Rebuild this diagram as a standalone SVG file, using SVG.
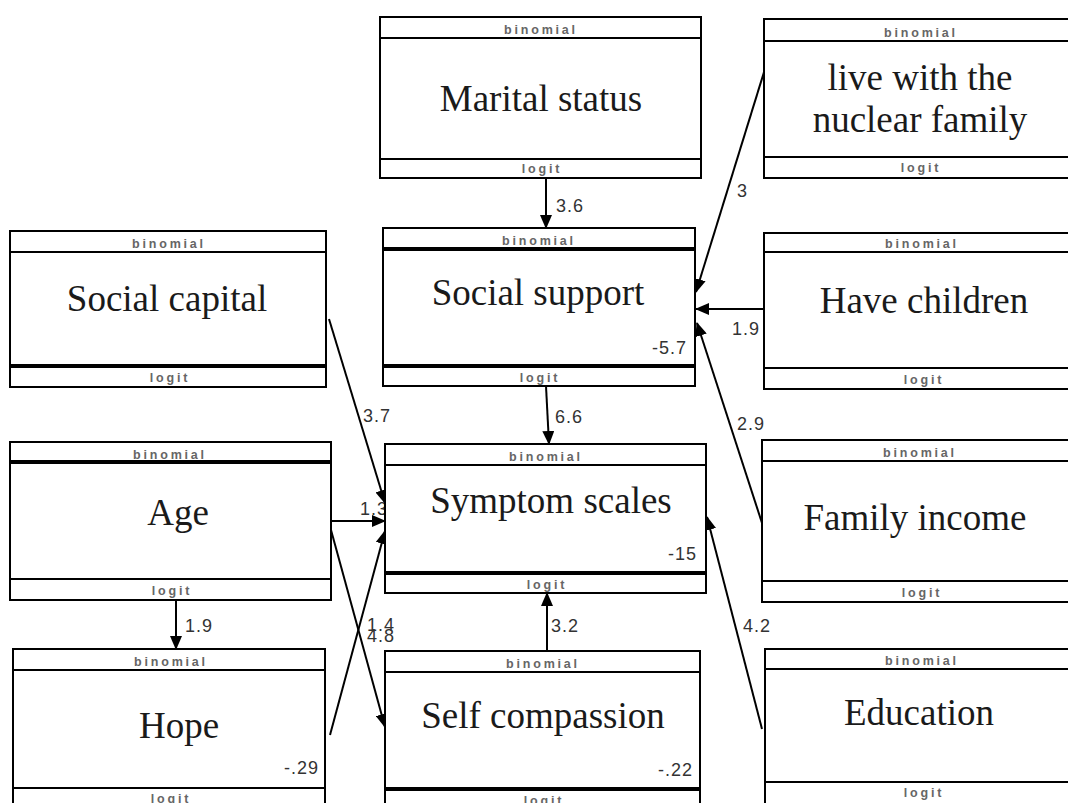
<svg xmlns="http://www.w3.org/2000/svg" width="1068" height="803" viewBox="0 0 1068 803">
<style>
.box{fill:#fff;stroke:#000;stroke-width:2}
.sep{stroke:#000;stroke-width:2}
.thk{stroke:#000;stroke-width:4}
.hd{font-family:"Liberation Sans",Arial,sans-serif;font-size:12.5px;font-weight:bold;letter-spacing:2.8px;fill:#666;text-anchor:middle}
.nm{font-family:"Liberation Serif","Times New Roman",serif;font-size:37px;fill:#1a1a1a;text-anchor:middle}
.cf{font-family:"Liberation Sans",Arial,sans-serif;font-size:18px;letter-spacing:1px;fill:#333}
.cr{font-family:"Liberation Sans",Arial,sans-serif;font-size:18px;letter-spacing:1px;fill:#333;text-anchor:end}
.edge{stroke:#000;stroke-width:2;fill:none;marker-end:url(#ah)}
</style>
<defs>
<marker id="ah" markerUnits="userSpaceOnUse" markerWidth="14" markerHeight="12" refX="13" refY="6" orient="auto">
<path d="M0,0 L14,6 L0,12 z" fill="#000"/>
</marker>
</defs>
<rect width="1068" height="803" fill="#fff"/>

<g id="connectors">
<line class="edge" x1="546" y1="178" x2="546" y2="228"/>
<line class="edge" x1="764" y1="72" x2="696" y2="292"/>
<line class="edge" x1="764" y1="309" x2="696" y2="309"/>
<line class="edge" x1="762" y1="523" x2="697" y2="323"/>
<line class="edge" x1="546" y1="386" x2="549" y2="444"/>
<line class="edge" x1="329" y1="319" x2="385" y2="503"/>
<line class="edge" x1="331" y1="521" x2="385" y2="521"/>
<line class="edge" x1="331" y1="530" x2="385" y2="727"/>
<line class="edge" x1="330" y1="735" x2="385" y2="531"/>
<line class="edge" x1="547" y1="651" x2="547" y2="593"/>
<line class="edge" x1="762" y1="729" x2="707" y2="517"/>
<line class="edge" x1="176" y1="600" x2="176" y2="649"/>
<text class="cf" x="556" y="212">3.6</text>
<text class="cf" x="737" y="197">3</text>
<text class="cf" x="732" y="335">1.9</text>
<text class="cf" x="737" y="430">2.9</text>
<text class="cf" x="555" y="423">6.6</text>
<text class="cf" x="363" y="422">3.7</text>
<text class="cf" x="360" y="515">1.3</text>
<text class="cf" x="367" y="631">1.4</text>
<text class="cf" x="367" y="642">4.8</text>
<text class="cf" x="551" y="632">3.2</text>
<text class="cf" x="743" y="632">4.2</text>
<text class="cf" x="185" y="632">1.9</text>
</g>

<g id="marital">
<rect class="box" x="380" y="17" width="321" height="161"/>
<line class="sep" x1="380" y1="38" x2="701" y2="38"/>
<line class="sep" x1="380" y1="159" x2="701" y2="159"/>
<text class="hd" x="541" y="34">binomial</text>
<text class="nm" x="541" y="111">Marital status</text>
<text class="hd" x="542" y="173">logit</text>
</g>

<g id="livewith">
<rect class="box" x="764" y="19" width="330" height="159"/>
<line class="sep" x1="764" y1="41" x2="1094" y2="41"/>
<line class="sep" x1="764" y1="157" x2="1094" y2="157"/>
<text class="hd" x="921" y="37">binomial</text>
<text class="nm" x="920" y="90">live with the</text>
<text class="nm" x="920" y="132">nuclear family</text>
<text class="hd" x="921" y="172">logit</text>
</g>

<g id="socialcapital">
<rect class="box" x="10" y="231" width="316" height="156"/>
<line class="sep" x1="10" y1="252" x2="326" y2="252"/>
<line class="thk" x1="10" y1="366" x2="326" y2="366"/>
<text class="hd" x="169" y="248">binomial</text>
<text class="nm" x="167" y="311">Social capital</text>
<text class="hd" x="170" y="382">logit</text>
</g>

<g id="socialsupport">
<rect class="box" x="383" y="228" width="312" height="158"/>
<line class="thk" x1="383" y1="249" x2="695" y2="249"/>
<line class="thk" x1="383" y1="366" x2="695" y2="366"/>
<text class="hd" x="539" y="245">binomial</text>
<text class="nm" x="538" y="305">Social support</text>
<text class="cr" x="687" y="354">-5.7</text>
<text class="hd" x="540" y="382">logit</text>
</g>

<g id="havechildren">
<rect class="box" x="764" y="233" width="330" height="156"/>
<line class="sep" x1="764" y1="252" x2="1094" y2="252"/>
<line class="sep" x1="764" y1="368" x2="1094" y2="368"/>
<text class="hd" x="922" y="248">binomial</text>
<text class="nm" x="924" y="313">Have children</text>
<text class="hd" x="924" y="384">logit</text>
</g>

<g id="age">
<rect class="box" x="10" y="442" width="321" height="158"/>
<line class="thk" x1="10" y1="462" x2="331" y2="462"/>
<line class="sep" x1="10" y1="579" x2="331" y2="579"/>
<text class="hd" x="170" y="459">binomial</text>
<text class="nm" x="178" y="525">Age</text>
<text class="hd" x="172" y="595">logit</text>
</g>

<g id="symptom">
<rect class="box" x="385" y="444" width="321" height="149"/>
<line class="sep" x1="385" y1="465" x2="706" y2="465"/>
<line class="thk" x1="385" y1="573" x2="706" y2="573"/>
<text class="hd" x="546" y="461">binomial</text>
<text class="nm" x="551" y="513">Symptom scales</text>
<text class="cr" x="697" y="560">-15</text>
<text class="hd" x="547" y="589">logit</text>
</g>

<g id="familyincome">
<rect class="box" x="762" y="440" width="330" height="162"/>
<line class="sep" x1="762" y1="461" x2="1092" y2="461"/>
<line class="sep" x1="762" y1="581" x2="1092" y2="581"/>
<text class="hd" x="920" y="457">binomial</text>
<text class="nm" x="915" y="530">Family income</text>
<text class="hd" x="922" y="597">logit</text>
</g>

<g id="hope">
<rect class="box" x="13" y="649" width="312" height="162"/>
<line class="sep" x1="13" y1="670" x2="325" y2="670"/>
<line class="sep" x1="13" y1="788" x2="325" y2="788"/>
<text class="hd" x="171" y="666">binomial</text>
<text class="nm" x="179" y="738">Hope</text>
<text class="cr" x="319" y="774">-.29</text>
<text class="hd" x="171" y="803">logit</text>
</g>

<g id="selfcompassion">
<rect class="box" x="385" y="651" width="315" height="162"/>
<line class="sep" x1="385" y1="672" x2="700" y2="672"/>
<line class="thk" x1="385" y1="789" x2="700" y2="789"/>
<text class="hd" x="543" y="668">binomial</text>
<text class="nm" x="543" y="728">Self compassion</text>
<text class="cr" x="693" y="776">-.22</text>
<text class="hd" x="544" y="805">logit</text>
</g>

<g id="education">
<rect class="box" x="765" y="649" width="330" height="162"/>
<line class="sep" x1="765" y1="669" x2="1095" y2="669"/>
<line class="sep" x1="765" y1="782" x2="1095" y2="782"/>
<text class="hd" x="922" y="665">binomial</text>
<text class="nm" x="919" y="725">Education</text>
<text class="hd" x="924" y="797">logit</text>
</g>
</svg>
